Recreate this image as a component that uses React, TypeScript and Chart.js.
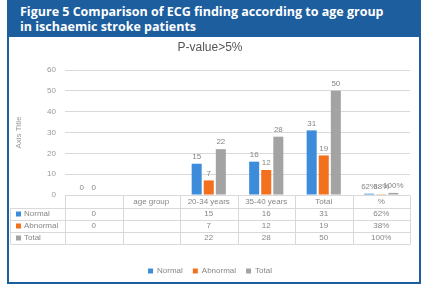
import React, { useEffect, useRef } from "react";
import { Chart, registerables } from "chart.js";

Chart.register(...registerables);

const categories = ["", "age group", "20-34 years", "35-40 years", "Total", "%"];
const seriesNames = ["Normal", "Abnormal", "Total"];
const normalValues = [0, null, 15, 16, 31, 0.62];
const abnormalValues = [0, null, 7, 12, 19, 0.38];
const totalValues = [null, null, 22, 28, 50, 1];
const percentCategory = "%";
const yMin = 0;
const yMax = 60;
const yStep = 10;

const colors = ["#3D8CDB", "#F2701E", "#A3A3A3"];
const seriesValues = [normalValues, abnormalValues, totalValues];

const FONT = "'Liberation Sans', Arial, sans-serif";
const TEXT = "#868686";
const GRID = "#d9d9d9";
const LINE_H = 12;
const TICK_PAD = 1;
const TABLE_LEFT = 10;

const fmt = (cat: string, v: number | null) =>
  v == null ? "" : cat === percentCategory ? Math.round(v * 100) + "%" : String(v);

const labels = categories.map((c, i) => [c, ...seriesValues.map((s) => fmt(c, s[i]))]);

const tablePlugin = {
  id: "dataTable",
  afterDraw(chart: any) {
    const { ctx, chartArea } = chart;
    const x = chart.scales.x;
    const n = categories.length;
    const w = (x.right - x.left) / n;
    const top = chartArea.bottom;
    const headerBottom = top + TICK_PAD + LINE_H;
    const rows = seriesNames.length;
    const bottom = headerBottom + rows * LINE_H;
    ctx.save();
    ctx.strokeStyle = GRID;
    ctx.lineWidth = 1;
    const line = (x1: number, y1: number, x2: number, y2: number) => {
      ctx.beginPath();
      ctx.moveTo(Math.round(x1) + 0.5, Math.round(y1) + 0.5);
      ctx.lineTo(Math.round(x2) + 0.5, Math.round(y2) + 0.5);
      ctx.stroke();
    };
    line(x.left, top, x.right, top);
    for (let r = 0; r <= rows; r++) {
      const y = headerBottom + r * LINE_H;
      line(TABLE_LEFT, y, x.right, y);
    }
    for (let i = 0; i <= n; i++) {
      const xx = x.left + i * w;
      line(xx, top, xx, bottom);
    }
    line(TABLE_LEFT, headerBottom, TABLE_LEFT, bottom);
    ctx.font = `8px ${FONT}`;
    ctx.textBaseline = "middle";
    ctx.textAlign = "left";
    chart.data.datasets.forEach((ds: any, i: number) => {
      const y = headerBottom + (i + 0.5) * LINE_H;
      ctx.fillStyle = ds.backgroundColor;
      ctx.fillRect(TABLE_LEFT + 6, y - 2.5, 5, 5);
      ctx.fillStyle = TEXT;
      ctx.fillText(ds.label, TABLE_LEFT + 14, y);
    });
    ctx.restore();
  },
};

const valueLabelPlugin = {
  id: "valueLabels",
  afterDatasetsDraw(chart: any) {
    const { ctx } = chart;
    ctx.save();
    ctx.font = `8px ${FONT}`;
    ctx.fillStyle = TEXT;
    ctx.textAlign = "center";
    ctx.textBaseline = "bottom";
    chart.data.datasets.forEach((ds: any, di: number) => {
      const meta = chart.getDatasetMeta(di);
      meta.data.forEach((el: any, i: number) => {
        const v = ds.data[i];
        if (v == null) return;
        ctx.fillText(fmt(categories[i], v), el.x, el.y - 3);
      });
    });
    ctx.restore();
  },
};

export default function App() {
  const ref = useRef<HTMLCanvasElement | null>(null);
  useEffect(() => {
    if (!ref.current) return;
    const chart = new Chart(ref.current, {
      type: "bar",
      data: {
        labels,
        datasets: seriesNames.map((name, i) => ({
          label: name,
          data: seriesValues[i],
          backgroundColor: colors[i],
          categoryPercentage: 0.63,
          barPercentage: 0.83,
        })),
      },
      options: {
        responsive: false,
        animation: false,
        layout: { padding: { top: 38, left: TABLE_LEFT, right: 16, bottom: 10 } },
        plugins: {
          title: {
            display: true,
            text: "P-value>5%",
            color: "#555555",
            font: { family: FONT, size: 12, weight: "normal" },
            padding: { top: 2, bottom: 15.6 },
          },
          legend: {
            position: "bottom",
            labels: {
              boxWidth: 5,
              boxHeight: 5,
              padding: 10,
              color: TEXT,
              font: { family: FONT, size: 8 },
            },
          },
          tooltip: { enabled: false },
        },
        scales: {
          x: {
            grid: { display: false, drawTicks: false },
            border: { display: false },
            ticks: {
              autoSkip: false,
              maxRotation: 0,
              padding: TICK_PAD,
              color: TEXT,
              font: { family: FONT, size: 8, lineHeight: LINE_H / 8 },
            },
            afterFit: (s: any) => {
              s.height = 62;
            },
          },
          y: {
            min: yMin,
            max: yMax,
            ticks: { stepSize: yStep, padding: 9, color: "#999", font: { family: FONT, size: 8 } },
            grid: { color: GRID, drawTicks: false },
            border: { display: false },
            title: {
              display: true,
              text: "Axis Title",
              color: "#999",
              font: { family: FONT, size: 8 },
            },
            afterFit: (s: any) => {
              s.width = 55;
            },
          },
        },
      },
      plugins: [tablePlugin, valueLabelPlugin],
    } as any);
    return () => chart.destroy();
  }, []);

  const blue = "#1C5E9E";
  return (
    <div style={{ position: "fixed", left: 0, top: 0, width: 426, height: 295, background: "#fff", overflow: "hidden" }}>
      <div
        style={{
          position: "absolute",
          left: 7,
          top: 0,
          width: 414,
          height: 37,
          background: blue,
          color: "#fff",
          fontFamily: "'Open Sans', sans-serif",
          fontWeight: 700,
          fontSize: 12.5,
          lineHeight: "15px",
          padding: "4px 0 0 13px",
          boxSizing: "border-box",
          whiteSpace: "nowrap",
        }}
      >
        Figure 5 Comparison of ECG finding according to age group
        <br />
        in ischaemic stroke patients
      </div>
      <div
        style={{
          position: "absolute",
          left: 7,
          top: 37,
          width: 414,
          height: 247,
          border: `2px solid ${blue}`,
          borderTop: "none",
          boxSizing: "border-box",
        }}
      />
      <canvas ref={ref} width={426} height={295} style={{ position: "absolute", left: 0, top: 0 }} />
    </div>
  );
}
